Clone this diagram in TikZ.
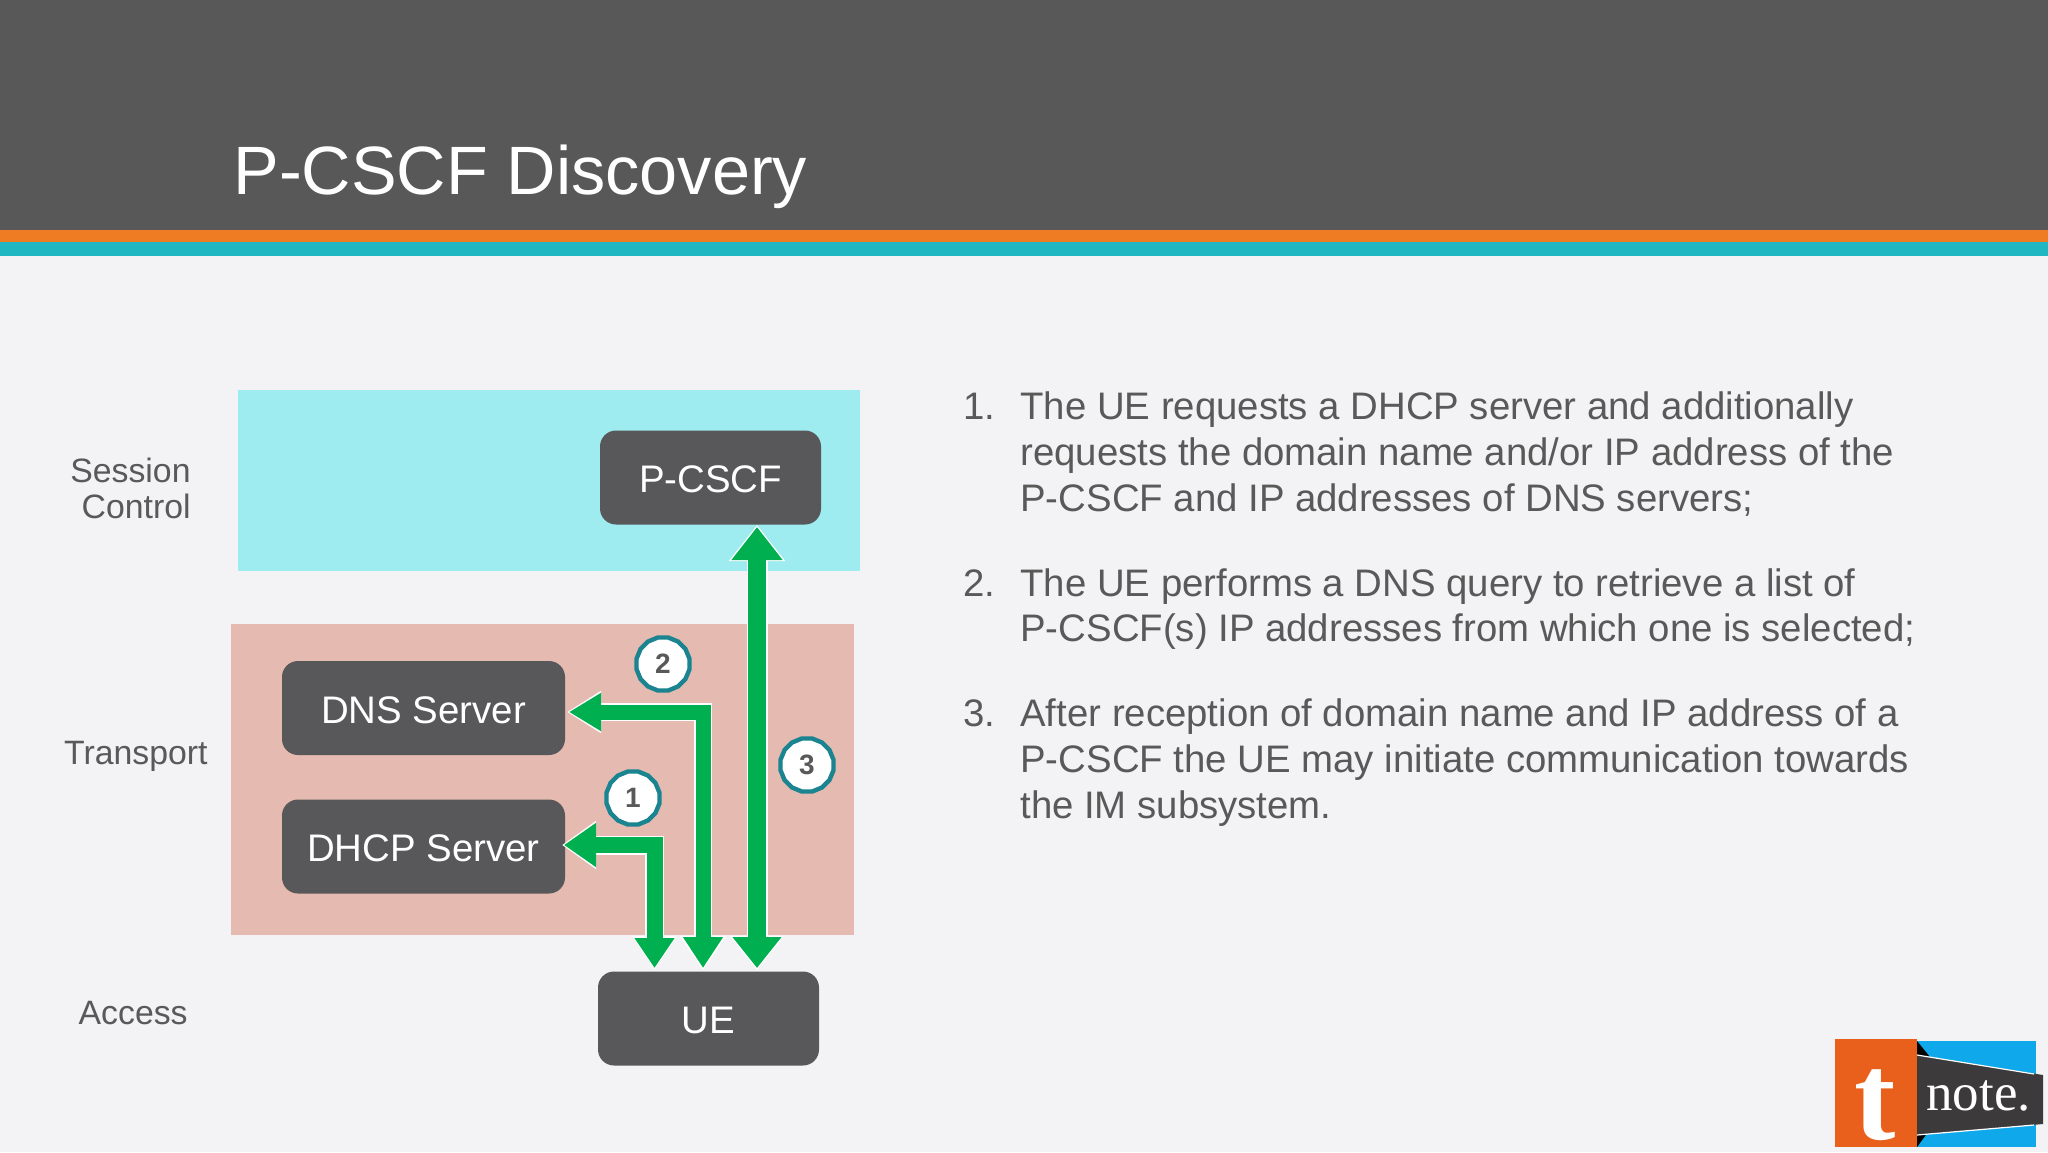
\documentclass[tikz,border=0pt]{standalone}
\usepackage{fontspec}
\setmainfont{Liberation Sans}
\newfontfamily\logofont{Liberation Serif}
\usetikzlibrary{arrows.meta,shapes.geometric}
\definecolor{bgc}{HTML}{F3F2F4}
\definecolor{headc}{HTML}{585858}
\definecolor{boxc}{HTML}{58585A}
\definecolor{orangec}{HTML}{EF7B22}
\definecolor{tealc}{HTML}{1FB7C2}
\definecolor{cyanc}{HTML}{9EECEF}
\definecolor{pinkc}{HTML}{E5BAB0}
\definecolor{greenc}{HTML}{00B050}
\definecolor{txtc}{HTML}{595959}
\definecolor{ringc}{HTML}{1A8490}
\definecolor{logoo}{HTML}{E8601C}
\definecolor{logob}{HTML}{0FA8EA}
\definecolor{logod}{HTML}{3C3A3A}
\tikzset{
  x=0.5pt,y=-0.5pt,
  band/.style={draw=none,inner sep=0pt,outer sep=0pt},
  box/.style={draw=none,fill=boxc,rounded corners=8pt,inner sep=0pt,outer sep=0pt,text=white,font=\fontsize{19.2}{23}\selectfont,minimum height=47pt,text height=15pt,text depth=0pt},
  body/.style={anchor=base west,inner sep=0pt,text=txtc,font=\fontsize{19.17}{23}\selectfont},
  side/.style={anchor=base east,inner sep=0pt,text=txtc,font=\fontsize{16.9}{20}\selectfont},
  badge/.style={regular polygon,regular polygon sides=16,draw=ringc,line width=2.2pt,fill=white,inner sep=0pt,minimum size=27pt,text=txtc,font=\fontsize{14}{16}\selectfont\bfseries},
  halo/.style={draw=white,line width=#1,line join=miter},
  wire/.style={draw=greenc,line width=#1,line join=miter},
}
\begin{document}
\begin{tikzpicture}
\useasboundingbox (0,0) rectangle (2048,1152);
\fill[bgc] (0,0) rectangle (2048,1152);
\fill[headc] (0,0) rectangle (2048,230);
\fill[orangec] (0,230) rectangle (2048,242);
\fill[tealc] (0,242) rectangle (2048,256);
\node[anchor=base west,inner sep=0pt,text=white,font=\fontsize{34.2}{40}\selectfont] (title) at (233,194) {P-CSCF Discovery};

% bands
\node[band,fill=cyanc,minimum width=311pt,minimum height=90.5pt] (sess) at (549,480.5) {};
\node[band,fill=pinkc,minimum width=311.5pt,minimum height=155.5pt] (trans) at (542.5,779.5) {};

% side labels
\node[side] (l1) at (191,482) {Session};
\node[side] (l2) at (191,518) {Control};
\node[side] (l3) at (208,764) {Transport};
\node[side] (l4) at (188,1024) {Access};

% boxes
\node[box,minimum width=110.5pt] (pcscf) at (710.5,477.5) {P-CSCF};
\node[box,minimum width=141.5pt] (dns) at (423.5,708) {DNS Server};
\node[box,minimum width=141.5pt] (dhcp) at (423.5,846.5) {DHCP Server};
\node[box,minimum width=110.5pt] (ue) at (708.5,1018.5) {UE};

% connector ends
\coordinate (a3t) at (757,527);
\coordinate (a3b) at (757,968);
\coordinate (a2t) at (569,712);
\coordinate (a2b) at (703,968);
\coordinate (a1t) at (564,845);
\coordinate (a1b) at (654.5,968);

% halos
\draw[halo=10.5pt,{Triangle[length=18pt,width=27pt]}-{Triangle[length=17pt,width=26pt]},shorten <=-1pt,shorten >=-1pt] (a3t) -- (a3b);
\draw[halo=9pt,{Triangle[length=17pt,width=22pt]}-{Triangle[length=17pt,width=20pt]},shorten <=-1pt,shorten >=-1pt] (a2b) |- (a2t);
\draw[halo=9.5pt,{Triangle[length=17pt,width=21pt]}-{Triangle[length=17pt,width=23pt]},shorten <=-1pt,shorten >=-1pt] (a1b) |- (a1t);
% arrows
\draw[wire=9pt,{Triangle[length=16.5pt,width=24.5pt]}-{Triangle[length=15.5pt,width=23.5pt]}] (a3t) -- (a3b);
\draw[wire=7.5pt,{Triangle[length=15.5pt,width=19pt]}-{Triangle[length=16pt,width=18pt]}] (a2b) |- (a2t);
\draw[wire=8pt,{Triangle[length=15pt,width=19pt]}-{Triangle[length=16pt,width=21pt]}] (a1b) |- (a1t);

% badges
\node[badge] (b1) at (633,798) {1};
\node[badge] (b2) at (663,664) {2};
\node[badge] (b3) at (807,765) {3};

% list text
\node[body] (n1) at (963,419) {1.};
\node[body] (t11) at (1020,419) {The UE requests a DHCP server and additionally};
\node[body] (t12) at (1020,465) {requests the domain name and/or IP address of the};
\node[body] (t13) at (1020,511) {P-CSCF and IP addresses of DNS servers;};
\node[body] (n2) at (963,596) {2.};
\node[body] (t21) at (1020,596) {The UE performs a DNS query to retrieve a list of};
\node[body] (t22) at (1020,641) {P-CSCF(s) IP addresses from which one is selected;};
\node[body] (n3) at (963,726) {3.};
\node[body] (t31) at (1020,726) {After reception of domain name and IP address of a};
\node[body] (t32) at (1020,772) {P-CSCF the UE may initiate communication towards};
\node[body] (t33) at (1020,818) {the IM subsystem.};

% logo
\fill[logob] (1917,1041) rectangle (2036,1147);
\fill[black] (1917,1041) -- (1930,1057) -- (1917,1057) -- cycle;
\fill[black] (1917,1147) -- (1928,1132) -- (1917,1132) -- cycle;
\fill[logod] (1917,1055) -- (2043,1075) -- (2043,1124) -- (1917,1135) -- cycle;
\draw[white,line width=0.6pt] (1917,1055) -- (2034,1074);
\draw[white,line width=0.6pt] (1917,1135) -- (2034,1125);
\fill[logoo] (1835,1039) rectangle (1917,1147);
\node[inner sep=0pt,anchor=base,text=white,font=\logofont\bfseries\fontsize{62}{70}\selectfont] (logot) at (1875,1139) {t};
\node[inner sep=0pt,anchor=base west,text=white,font=\logofont\fontsize{26.5}{30}\selectfont] (logon) at (1926,1110) {note.};
\end{tikzpicture}
\end{document}
